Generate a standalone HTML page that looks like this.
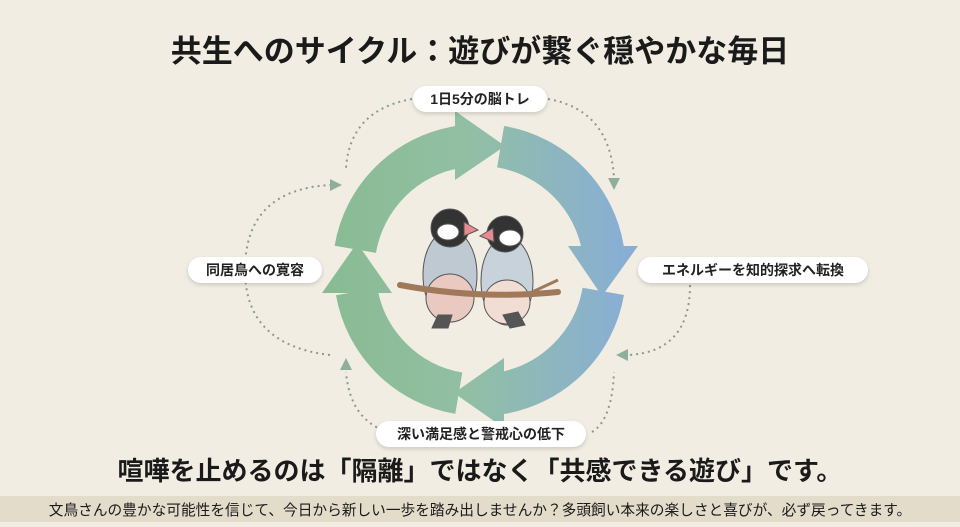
<!DOCTYPE html>
<html><head><meta charset="utf-8"><style>
body{margin:0;width:960px;height:527px;overflow:hidden;background:#f1ede3;font-family:"Liberation Sans","Noto Sans CJK JP",sans-serif;position:relative}
.t{position:absolute;left:0;width:960px;text-align:center;font-weight:bold;color:#1a1a1a}
.pill{position:absolute;background:#fff;border-radius:14px;box-shadow:0 2px 4px rgba(0,0,0,.15);font-weight:bold;font-size:14px;color:#222;text-align:center;line-height:26px;height:26px}
</style></head><body>
<svg width="960" height="527" style="position:absolute;left:0;top:0">
<defs><linearGradient id="g" x1="330" y1="0" x2="630" y2="0" gradientUnits="userSpaceOnUse">
<stop offset="0" stop-color="#89bb93"/><stop offset="0.45" stop-color="#92bfa3"/><stop offset="1" stop-color="#88aed6"/></linearGradient></defs>
<g fill="none" stroke="url(#g)" stroke-width="42">
<path d="M355.3,249.3 A125,125 0 0 1 458.3,146.9"/>
<path d="M500.6,146.7 A125,125 0 0 1 603.1,249.5"/>
<path d="M603.3,291.4 A125,125 0 0 1 500.7,393.3"/>
<path d="M458.8,393.2 A125,125 0 0 1 356.7,291.6"/>
</g>
<g fill="url(#g)">
<polygon points="455,111 455,180 505,146"/>
<polygon points="638,246 568,246 602,296"/>
<polygon points="504,428 504,358 454,393"/>
<polygon points="322,293 392,293 357,243"/>
</g>
<g fill="none" stroke="#8a9a90" stroke-width="2" stroke-dasharray="2 4">
<path d="M548,99 Q610,110 614,178"/>
<path d="M690,285 Q690,352 628,355"/>
<path d="M592,432 Q612,420 614,372"/>
<path d="M388,432 Q350,420 346,372"/>
<path d="M330,355 Q245,345 245,270 Q245,190 330,185"/>
<path d="M412,99 Q350,110 346,168"/>
</g>
<g fill="#8fae9c">
<polygon points="608,178 620,178 614,190"/>
<polygon points="628,349 628,361 616,355"/>
<polygon points="330,179 330,191 342,185"/>
<polygon points="340,370 352,370 346,358"/>
</g>
<g stroke="#555" stroke-width="1">
<ellipse cx="450" cy="275" rx="27" ry="45" fill="#bfc9d2"/>
<ellipse cx="450" cy="298" rx="24" ry="24" fill="#e9c9c0"/>
<path d="M438,315 L432,328 L448,328 L452,315Z" fill="#555"/>
<circle cx="450" cy="228" r="19" fill="#333"/>
<ellipse cx="448" cy="232" rx="11" ry="8" fill="#fff"/>
<path d="M464,222 L478,230 L464,236Z" fill="#e98a8e"/>
<ellipse cx="507" cy="281" rx="26" ry="44" fill="#c8d2da"/>
<ellipse cx="507" cy="302" rx="23" ry="22" fill="#f2ddd4"/>
<path d="M503,315 L510,328 L525,325 L518,312Z" fill="#555"/>
<circle cx="505" cy="234" r="18" fill="#333"/>
<ellipse cx="510" cy="238" rx="11" ry="8" fill="#fff"/>
<path d="M493,228 L480,236 L494,242Z" fill="#e98a8e"/>
</g>
<path d="M400,285 Q480,300 558,292" stroke="#a0785a" stroke-width="6" fill="none" stroke-linecap="round"/>
<path d="M530,293 L558,280" stroke="#a0785a" stroke-width="3"/>
<rect x="0" y="496" width="960" height="26" fill="#e3dccb"/>
</svg>
<div class="t" style="top:26px;font-size:31px">共生へのサイクル：遊びが繋ぐ穏やかな毎日</div>
<div class="pill" style="left:413px;top:86px;width:134px">1日5分の脳トレ</div>
<div class="pill" style="left:638px;top:257px;width:230px">エネルギーを知的探求へ転換</div>
<div class="pill" style="left:376px;top:421px;width:210px">深い満足感と警戒心の低下</div>
<div class="pill" style="left:188px;top:257px;width:134px">同居鳥への寛容</div>
<div class="t" style="top:451px;font-size:26px">喧嘩を止めるのは「隔離」ではなく「共感できる遊び」です。</div>
<div class="t" style="top:499px;font-size:14.7px;font-weight:normal">文鳥さんの豊かな可能性を信じて、今日から新しい一歩を踏み出しませんか？多頭飼い本来の楽しさと喜びが、必ず戻ってきます。</div>
</body></html>
